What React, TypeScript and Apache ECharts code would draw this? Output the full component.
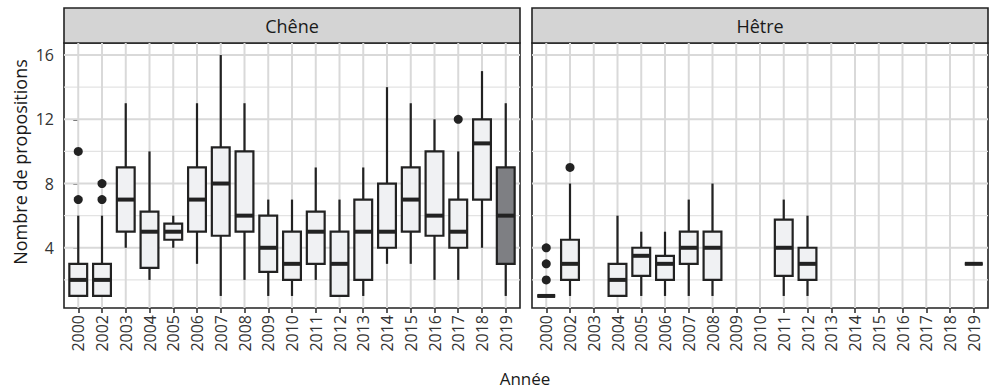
import React, { useEffect, useRef } from "react";
import * as echarts from "echarts";

const years = ["2000", "2002", "2003", "2004", "2005", "2006", "2007", "2008", "2009", "2010", "2011", "2012", "2013", "2014", "2015", "2016", "2017", "2018", "2019"];

// [min, q1, median, q3, max] per year (null = no data)
const cheneBoxes: (number[] | null)[] = [
  [1, 1, 2, 3, 6],
  [1, 1, 2, 3, 6],
  [4, 5, 7, 9, 13],
  [2, 2.75, 5, 6.25, 10],
  [4, 4.5, 5, 5.5, 6],
  [3, 5, 7, 9, 13],
  [1, 4.75, 8, 10.25, 16],
  [2, 5, 6, 10, 13],
  [1, 2.5, 4, 6, 7],
  [1, 2, 3, 5, 7],
  [2, 3, 5, 6.25, 9],
  [1, 1, 3, 5, 7],
  [1, 2, 5, 7, 9],
  [3, 4, 5, 8, 14],
  [3, 5, 7, 9, 13],
  [2, 4.75, 6, 10, 12],
  [2, 4, 5, 7, 10],
  [4, 7, 10.5, 12, 15],
  [1, 3, 6, 9, 13],
];
const cheneHighlight = ["2019"];
const cheneOutliers: [string, number][] = [
  ["2000", 7], ["2000", 10], ["2002", 7], ["2002", 8], ["2017", 12],
];

const hetreBoxes: (number[] | null)[] = [
  [1, 1, 1, 1, 1],
  [1, 2, 3, 4.5, 8],
  null,
  [1, 1, 2, 3, 6],
  [1, 2.25, 3.5, 4, 5],
  [1, 2, 3, 3.5, 5],
  [1, 3, 4, 5, 7],
  [1, 2, 4, 5, 8],
  null,
  null,
  [1, 2.25, 4, 5.75, 7],
  [1, 2, 3, 4, 6],
  null, null, null, null, null, null,
  [3, 3, 3, 3, 3],
];
const hetreOutliers: [string, number][] = [
  ["2000", 2], ["2000", 3], ["2000", 4], ["2002", 9],
];

const yTicks = [4, 8, 12, 16];
const yMinor = [2, 6, 10, 14];
const panels = ["Chêne", "Hêtre"];

const FONT = "Open Sans";

export default function App() {
  const ref = useRef<HTMLDivElement>(null);
  useEffect(() => {
    if (!ref.current) return;
    const chart = echarts.init(ref.current, null, { renderer: "svg" });
    const gridLeft = [64, 532];
    const gridTop = 43;
    const gridW = 456;
    const gridH = 265;
    const idx = years.map((_, i) => i);

    const gridSeries = (gi: number) => ({
      type: "custom",
      xAxisIndex: gi,
      yAxisIndex: gi,
      z: 1,
      silent: true,
      data: [[0, 1]],
      renderItem: (params: any, api: any) => {
        const cs = params.coordSys;
        const children: any[] = [];
        yMinor.forEach((v) => {
          const y = api.coord([0, v])[1];
          children.push({ type: "line", shape: { x1: cs.x, y1: y, x2: cs.x + cs.width, y2: y }, style: { stroke: "#e3e3e3", lineWidth: 1.2 } });
        });
        yTicks.forEach((v) => {
          const y = api.coord([0, v])[1];
          children.push({ type: "line", shape: { x1: cs.x, y1: y, x2: cs.x + cs.width, y2: y }, style: { stroke: "#d9d9d9", lineWidth: 2 } });
        });
        idx.forEach((i) => {
          const x = api.coord([i, 1])[0];
          children.push({ type: "line", shape: { x1: x, y1: cs.y, x2: x, y2: cs.y + cs.height }, style: { stroke: "#d9d9d9", lineWidth: 2 } });
        });
        return { type: "group", children };
      },
    });

    const boxSeries = (gi: number, boxes: (number[] | null)[], highlight: string[]) => ({
      type: "custom",
      xAxisIndex: gi,
      yAxisIndex: gi,
      z: 2,
      data: boxes
        .map((b, i) => (b ? [i, ...b, highlight.includes(years[i]) ? 1 : 0] : null))
        .filter((d) => d !== null),
      encode: { x: 0, y: [1, 2, 3, 4, 5] },
      renderItem: (params: any, api: any) => {
        const i = api.value(0);
        const pMin = api.coord([i, api.value(1)]);
        const pQ1 = api.coord([i, api.value(2)]);
        const pMed = api.coord([i, api.value(3)]);
        const pQ3 = api.coord([i, api.value(4)]);
        const pMax = api.coord([i, api.value(5)]);
        const hl = api.value(6) === 1;
        const w = api.size([0.75, 0])[0];
        const x = pMed[0];
        const stroke = "#222222";
        return {
          type: "group",
          children: [
            { type: "line", shape: { x1: x, y1: pQ3[1], x2: x, y2: pMax[1] }, style: { stroke, lineWidth: 2.2 } },
            { type: "line", shape: { x1: x, y1: pQ1[1], x2: x, y2: pMin[1] }, style: { stroke, lineWidth: 2.2 } },
            { type: "rect", shape: { x: x - w / 2, y: pQ3[1], width: w, height: pQ1[1] - pQ3[1] }, style: { fill: hl ? "#7e7f83" : "#f0f1f3", stroke, lineWidth: 2.2 } },
            { type: "line", shape: { x1: x - w / 2, y1: pMed[1], x2: x + w / 2, y2: pMed[1] }, style: { stroke, lineWidth: 4 } },
          ],
        };
      },
    });

    const outlierSeries = (gi: number, outs: [string, number][]) => ({
      type: "scatter",
      xAxisIndex: gi,
      yAxisIndex: gi,
      z: 3,
      symbolSize: 9,
      itemStyle: { color: "#222222", opacity: 1 },
      data: outs.map(([yr, v]) => [years.indexOf(yr), v]),
    });

    const axisText = { color: "#333333", fontFamily: FONT, fontSize: 16 };

    chart.setOption({
      animation: false,
      textStyle: { fontFamily: FONT },
      grid: panels.map((_, gi) => ({
        left: gridLeft[gi], top: gridTop, width: gridW, height: gridH,
        show: true, borderColor: "#222222", borderWidth: 1.6, backgroundColor: "transparent",
      })),
      xAxis: panels.map((_, gi) => ({
        type: "value", gridIndex: gi, min: -0.6, max: 18.6,
        splitLine: { show: false },
        axisLine: { show: false },
        axisTick: { show: true, customValues: idx, length: 5, lineStyle: { color: "#333333", width: 1.6 } },
        axisLabel: { ...axisText, customValues: idx, rotate: 90, margin: 7, formatter: (v: number) => years[Math.round(v)] },
      })),
      yAxis: panels.map((_, gi) => ({
        type: "value", gridIndex: gi, min: 0.25, max: 16.75,
        splitLine: { show: false },
        axisLine: { show: false },
        axisTick: { show: gi === 0, customValues: yTicks, length: 5, lineStyle: { color: "#333333", width: 1.6 } },
        axisLabel: { ...axisText, show: gi === 0, customValues: yTicks, margin: 10 },
      })),
      series: [
        gridSeries(0), gridSeries(1),
        boxSeries(0, cheneBoxes, cheneHighlight),
        boxSeries(1, hetreBoxes, []),
        outlierSeries(0, cheneOutliers),
        outlierSeries(1, hetreOutliers),
      ],
      graphic: [
        ...panels.map((name, gi) => ({
          type: "group",
          children: [
            { type: "rect", shape: { x: gridLeft[gi], y: 8, width: gridW, height: 35 }, style: { fill: "#d4d4d4", stroke: "#222222", lineWidth: 1.6 } },
            { type: "text", x: gridLeft[gi] + gridW / 2, y: 25.5, style: { text: name, fill: "#1a1a1a", font: `18px "${FONT}"`, align: "center", verticalAlign: "middle" } },
          ],
        })),
        { type: "text", x: 525, y: 378, style: { text: "Année", fill: "#1a1a1a", font: `17px "${FONT}"`, align: "center", verticalAlign: "middle" } },
        { type: "text", x: 20, y: 162, rotation: Math.PI / 2, style: { text: "Nombre de propositions", fill: "#1a1a1a", font: `18px "${FONT}"`, align: "center", verticalAlign: "middle" } },
      ],
    });
    return () => chart.dispose();
  }, []);
  return <div ref={ref} style={{ width: 992, height: 391, position: "absolute", left: 0, top: 0 }} />;
}
